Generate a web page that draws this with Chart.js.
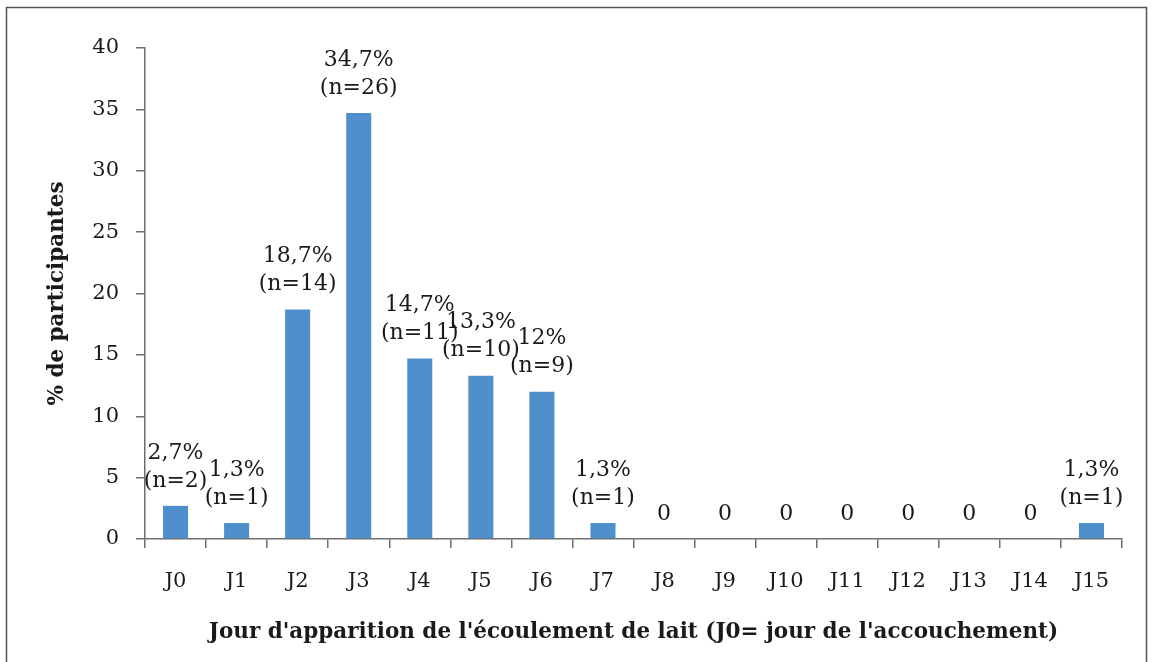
<!DOCTYPE html>
<html>
<head>
<meta charset="utf-8">
<script src="https://cdn.jsdelivr.net/npm/chart.js@4.4.1/dist/chart.umd.min.js"></script>
<style>
    html, body { margin: 0; padding: 0; background: #ffffff; }
    #wrap { width: 1153px; height: 662px; position: relative; }
</style>
</head>
<body>
<div id="wrap"><canvas id="dayChart" width="1153" height="662"></canvas></div>
<script>
// Data
const days = ['J0', 'J1', 'J2', 'J3', 'J4', 'J5', 'J6', 'J7', 'J8', 'J9', 'J10', 'J11', 'J12', 'J13', 'J14', 'J15'];
const percents = [2.7, 1.3, 18.7, 34.7, 14.7, 13.3, 12, 1.3, 0, 0, 0, 0, 0, 0, 0, 1.3];
const counts = [2, 1, 14, 26, 11, 10, 9, 1, 0, 0, 0, 0, 0, 0, 0, 1];
const yTicks = [0, 5, 10, 15, 20, 25, 30, 35, 40];

const serif = "'DejaVu Serif', 'Liberation Serif', serif";
const textColor = '#1a1a1a';
const axisColor = '#6e6e6e';

function labelLines(i) {
    if (counts[i] === 0) {
        return ['0'];
    }
    const pct = String(percents[i]).replace('.', ',') + '%';
    return [pct, '(n=' + counts[i] + ')'];
}

// Two-line value labels above each bar
const barLabels = {
    id: 'barLabels',
    afterDatasetsDraw(chart) {
        const c = chart.ctx;
        const meta = chart.getDatasetMeta(0);
        c.save();
        c.font = '22px ' + serif;
        c.fillStyle = textColor;
        c.textAlign = 'center';
        c.textBaseline = 'middle';
        meta.data.forEach((bar, i) => {
            const lines = labelLines(i);
            lines.forEach((txt, k) => {
                const fromBottom = lines.length - 1 - k;
                c.fillText(txt, bar.x, bar.y - 25 - fromBottom * 28);
            });
        });
        c.restore();
    }
};

// Outer frame
const frame = {
    id: 'frame',
    afterDraw(chart) {
        const c = chart.ctx;
        c.save();
        c.strokeStyle = '#555555';
        c.lineWidth = 1.5;
        c.beginPath();
        c.moveTo(6.5, 700);
        c.lineTo(6.5, 7.5);
        c.lineTo(1146.5, 7.5);
        c.lineTo(1146.5, 700);
        c.stroke();
        c.restore();
    }
};

const ctx = document.getElementById('dayChart');

new Chart(ctx, {
    type: 'bar',
    data: {
        labels: days,
        datasets: [{
            data: percents,
            backgroundColor: '#4f8fcb',
            borderWidth: 0,
            categoryPercentage: 1,
            barPercentage: 0.41
        }]
    },
    options: {
        responsive: false,
        animation: false,
        layout: {
            padding: { top: 48, right: 31, bottom: 0, left: 0 }
        },
        plugins: {
            legend: { display: false },
            tooltip: { enabled: false }
        },
        scales: {
            x: {
                grid: {
                    display: true,
                    drawOnChartArea: false,
                    drawTicks: true,
                    tickLength: 9,
                    color: axisColor,
                    lineWidth: 1.5
                },
                border: { color: axisColor, width: 1.5 },
                ticks: {
                    color: textColor,
                    font: { family: serif, size: 21 },
                    padding: 21,
                    maxRotation: 0,
                    autoSkip: false
                },
                title: {
                    display: true,
                    text: "Jour d'apparition de l'écoulement de lait (J0= jour de l'accouchement)",
                    color: textColor,
                    font: { family: serif, size: 21.5, weight: 'bold' },
                    padding: { top: 0, bottom: 17 }
                },
                afterFit(scale) {
                    scale.height = 123;
                }
            },
            y: {
                min: 0,
                max: 40,
                afterBuildTicks(scale) {
                    scale.ticks = yTicks.map(v => ({ value: v }));
                },
                grid: {
                    display: true,
                    drawOnChartArea: false,
                    drawTicks: true,
                    tickLength: 9,
                    color: axisColor,
                    lineWidth: 1.5
                },
                border: { color: axisColor, width: 1.5 },
                ticks: {
                    color: textColor,
                    font: { family: serif, size: 21 },
                    padding: 17
                },
                title: {
                    display: true,
                    text: '% de participantes',
                    color: textColor,
                    font: { family: serif, size: 21.5, weight: 'bold' },
                    padding: { top: 45, bottom: 0 }
                },
                afterFit(scale) {
                    scale.width = 145;
                }
            }
        }
    },
    plugins: [barLabels, frame]
});
</script>
</body>
</html>
